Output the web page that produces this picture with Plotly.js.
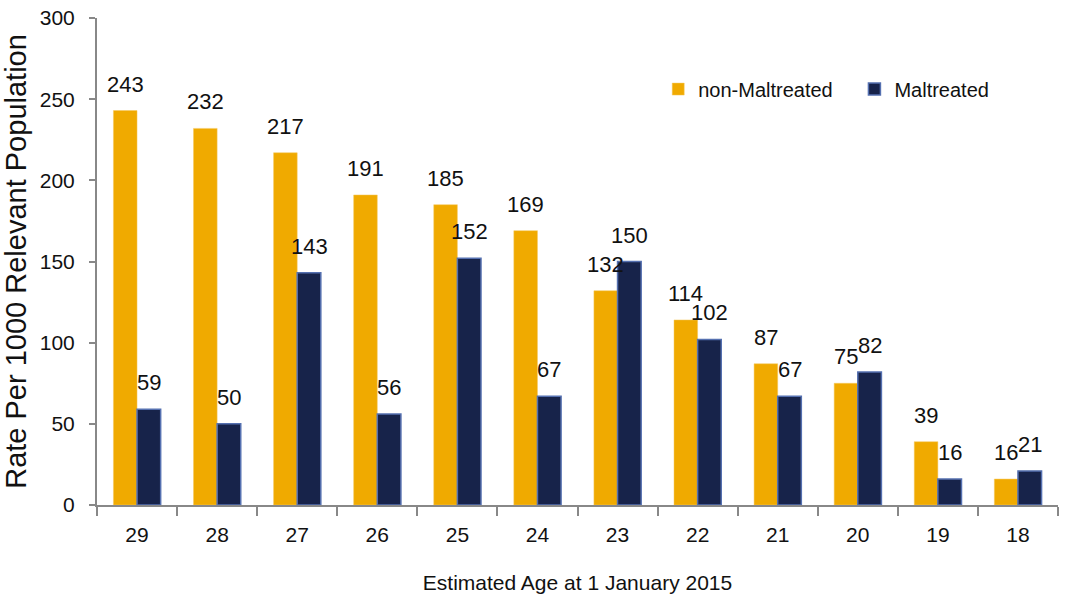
<!DOCTYPE html>
<html><head><meta charset="utf-8">
<script src="https://cdn.plot.ly/plotly-3.0.1.min.js"></script>
<style>html,body{margin:0;padding:0;background:#fff}#chart{width:1066px;height:597px}</style>
</head><body><div id="chart"></div>
<script>
const ages = ["29","28","27","26","25","24","23","22","21","20","19","18"];
const nonMaltreated = [243,232,217,191,185,169,132,114,87,75,39,16];
const maltreated = [59,50,143,56,152,67,150,102,67,82,16,21];
const font = {family:"Liberation Sans, Arial, sans-serif", color:"#111"};
const traces = [
  {type:"bar", name:"non-Maltreated\u00a0\u00a0\u00a0", x:ages, y:nonMaltreated,
   marker:{color:"#f0aa00", line:{color:"#f5c860", width:0.5}}},
  {type:"bar", name:"Maltreated", x:ages, y:maltreated,
   marker:{color:"#17234a", line:{color:"#5570b0", width:1.5}}}
];
const BAR_OFF = 11.8;
const annotations = [];
ages.forEach((a,i)=>{
  annotations.push({x:i, y:nonMaltreated[i], xref:"x", yref:"y", text:String(nonMaltreated[i]),
    showarrow:false, xshift:-BAR_OFF, yshift:12, yanchor:"bottom", font:{size:22,color:"#111"}});
  annotations.push({x:i, y:maltreated[i], xref:"x", yref:"y", text:String(maltreated[i]),
    showarrow:false, xshift:BAR_OFF, yshift:12, yanchor:"bottom", font:{size:22,color:"#111"}});
});
const layout = {
  width:1066, height:597, margin:{l:97, r:8, t:18, b:92},
  paper_bgcolor:"#fff", plot_bgcolor:"#fff",
  font:Object.assign({size:20}, font),
  barmode:"group", bargap:0.41, bargroupgap:0,
  showlegend:true, annotations:annotations,
  legend:{orientation:"h", x:0.584, y:0.854, xanchor:"left", yanchor:"middle",
    font:{size:20,color:"#111"}, bgcolor:"rgba(0,0,0,0)", itemwidth:30, tracegroupgap:0},
  xaxis:{type:"category", range:[-0.5, 11.5], showline:true, linecolor:"#888", linewidth:2,
    ticks:"outside", tickson:"boundaries", ticklen:9, tickcolor:"#888", tickwidth:2,
    ticklabelstandoff:10, tickangle:0,
    tickfont:{size:21,color:"#111"}, showgrid:false, zeroline:false,
    title:{text:"Estimated Age at 1 January 2015", font:{size:21,color:"#111"}, standoff:30}},
  yaxis:{range:[0,300], tickvals:[0,50,100,150,200,250,300], showline:true, linecolor:"#888", linewidth:2,
    ticks:"outside", ticklen:6, tickcolor:"#888", tickwidth:2, showgrid:false, zeroline:false,
    ticklabelstandoff:10,
    tickfont:{size:21,color:"#111"},
    title:{text:"Rate Per 1000 Relevant Population", font:{size:29,color:"#111"}, standoff:8}}
};
Plotly.newPlot("chart", traces, layout, {displayModeBar:false, staticPlot:true});
</script></body></html>
